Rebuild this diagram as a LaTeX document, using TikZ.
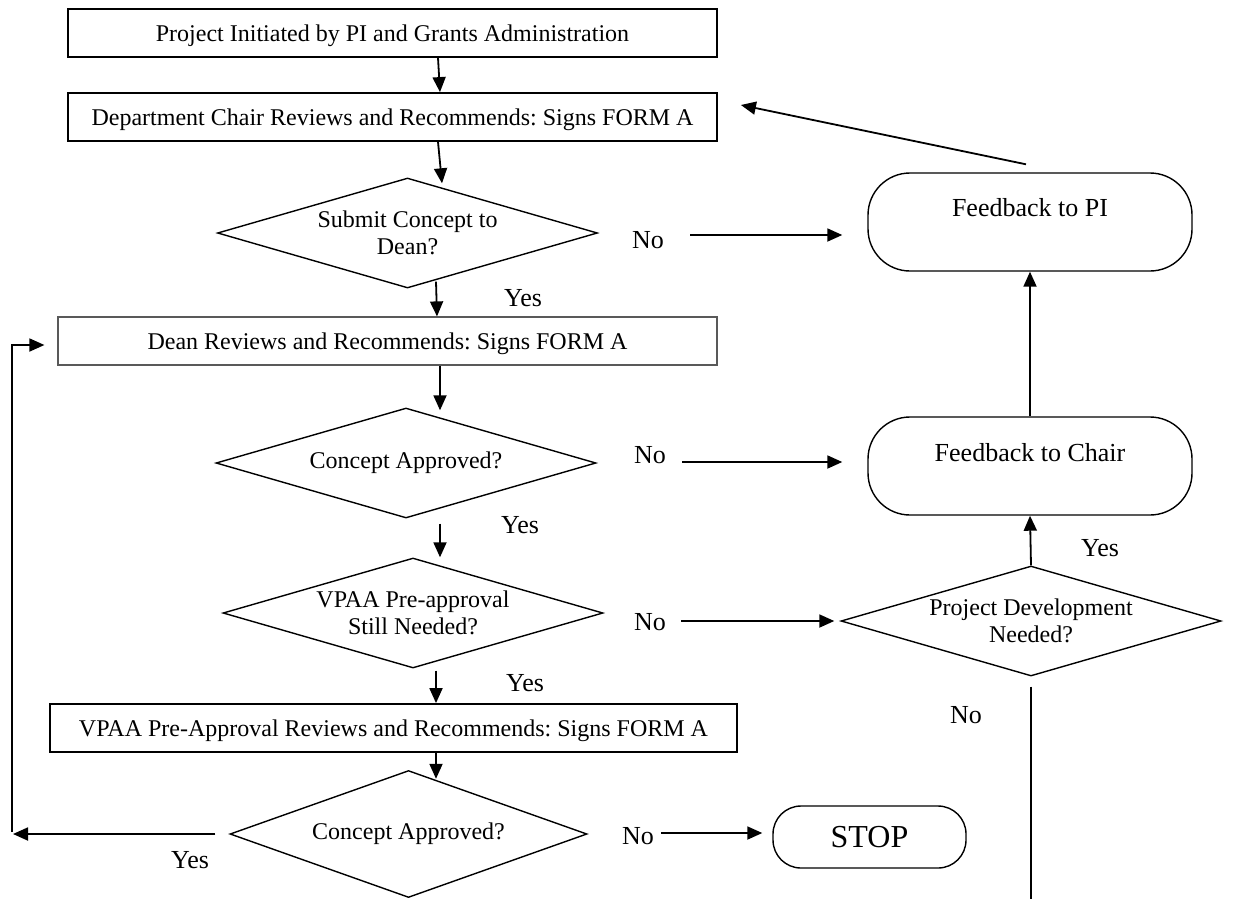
\documentclass[tikz,border=0pt]{standalone}
\usepackage{fontspec}
\setmainfont{Liberation Serif}
\frenchspacing
\usetikzlibrary{shapes.geometric,arrows.meta,calc}
\begin{document}
\begin{tikzpicture}[x=1pt,y=-1pt,
  procbox/.style={draw,line width=1.8pt,minimum height=48pt,inner sep=0pt,text height=17pt,text depth=1pt,font=\fontsize{24}{27}\selectfont},
  decision/.style={draw,diamond,line width=1.4pt,inner sep=0pt,aspect=3.45,minimum width=380pt,minimum height=110pt,align=center,font=\fontsize{24}{27}\selectfont},
  term/.style={draw,rounded corners=42pt,line width=1.4pt,minimum width=324pt,minimum height=98pt,inner sep=0pt},
  termtext/.style={font=\fontsize{26}{28}\selectfont,inner sep=0pt},
  lbl/.style={font=\fontsize{26}{28}\selectfont,inner sep=0pt},
  flow/.style={line width=1.8pt,-{Triangle[length=15pt,width=13pt]}},
  plain/.style={line width=1.8pt}]
\fill[white] (0,0) rectangle (1238,900);
\useasboundingbox (0,0) rectangle (1238,900);

% main column
\node[procbox,minimum width=649pt] (box1) at (392.5,33) {Project Initiated by PI and Grants Administration};
\node[procbox,minimum width=649pt] (box2) at (392.5,117) {Department Chair Reviews and Recommends: Signs FORM A};
\node[decision] (d1) at (407.5,233) {Submit Concept to\\Dean?};
\node[procbox,draw=black!65,line width=1.2pt,minimum width=659pt] (dean) at (387.5,341) {Dean Reviews and Recommends: Signs FORM A};
\node[decision] (d2) at (406,463) {Concept Approved?};
\node[decision] (d3) at (413,613) {VPAA Pre-approval\\Still Needed?};
\node[procbox,minimum width=687pt] (vpaa) at (393.5,728) {VPAA Pre-Approval Reviews and Recommends: Signs FORM A};
\node[decision,aspect=2.81,minimum width=357pt,minimum height=127pt] (d5) at (408.5,834) {Concept Approved?};

% right column
\node[term] (fpi) at (1030,222) {};
\node[termtext] (fpitext) at ($(fpi)+(0,-14)$) {Feedback to PI};
\node[term] (fch) at (1030,466) {};
\node[termtext] (fchtext) at ($(fch)+(0,-13)$) {Feedback to Chair};
\node[decision] (d4) at (1031,621) {Project Development\\Needed?};
\node[draw,rounded corners=28pt,line width=1.4pt,minimum width=193pt,minimum height=62pt,inner sep=0pt,font=\fontsize{32}{34}\selectfont] (stop) at (869.5,837) {STOP};

% labels
\node[lbl] (no1) at (648,240) {No};
\node[lbl] (no2) at (650,455) {No};
\node[lbl] (no3) at (650,622) {No};
\node[lbl] (no4) at (966,715) {No};
\node[lbl] (no5) at (638,836) {No};
\node[lbl] (yes1) at (523,298) {Yes};
\node[lbl] (yes2) at (520,525) {Yes};
\node[lbl] (yes3) at (525,683) {Yes};
\node[lbl] (yes4) at (1100,548) {Yes};
\node[lbl] (yes5) at (190,860) {Yes};

% connectors
\draw[flow] ([xshift=45.5pt]box1.south) -- ([xshift=47.5pt]box2.north);
\draw[flow] ([xshift=45.5pt]box2.south) -- ($(d1.north)+(34.5,6)$);
\draw[flow] ($(d1.south)+(28.5,-7)$) -- ([xshift=49.5pt]dean.north);
\draw[flow] ($(no1.east)+(26,-5)$) -- ($(fpi.west)+(-25,13)$);
\draw[flow] ($(fpi.north)+(-4,-8)$) -- ($(box2.east)+(23,-12)$);
\draw[flow] ([xshift=52.5pt]dean.south) -- ($(d2.north)+(34,3)$);
\draw[flow] ($(no2.east)+(16,7)$) -- ($(fch.west)+(-25,-4)$);
\draw[flow] (fch.north) -- (fpi.south);
\draw[flow] ($(d2.south)+(34,5)$) -- ($(d3.north)+(27,0)$);
\draw[flow] ($(no3.east)+(15,-1)$) -- ($(d4.west)+(-6,0)$);
\draw[flow] (d4.north) -- (fch.south);
\draw[flow] ($(d3.south)+(23,2)$) -- ([xshift=42.5pt]vpaa.north);
\draw[flow] ([xshift=42.5pt]vpaa.south) -- ($(d5.north)+(27.5,9)$);
\draw[flow] ($(no5.east)+(7,-3)$) -- ($(stop.west)+(-10,-4)$);
\coordinate (loopc) at (13,834);
\draw[flow] ($(d5.west)+(-14,0)$) -- (loopc);
\draw[plain] ($(loopc)+(-1,-2)$) -- ($(loopc)+(-1,-490)$);
\draw[flow] ($(loopc)+(-1,-489)$) -- ($(dean.west)+(-13,4)$);
\coordinate (botc) at (1031,899);
\draw[plain] ($(d4.south)+(0,10)$) -- (botc);
\end{tikzpicture}
\end{document}
